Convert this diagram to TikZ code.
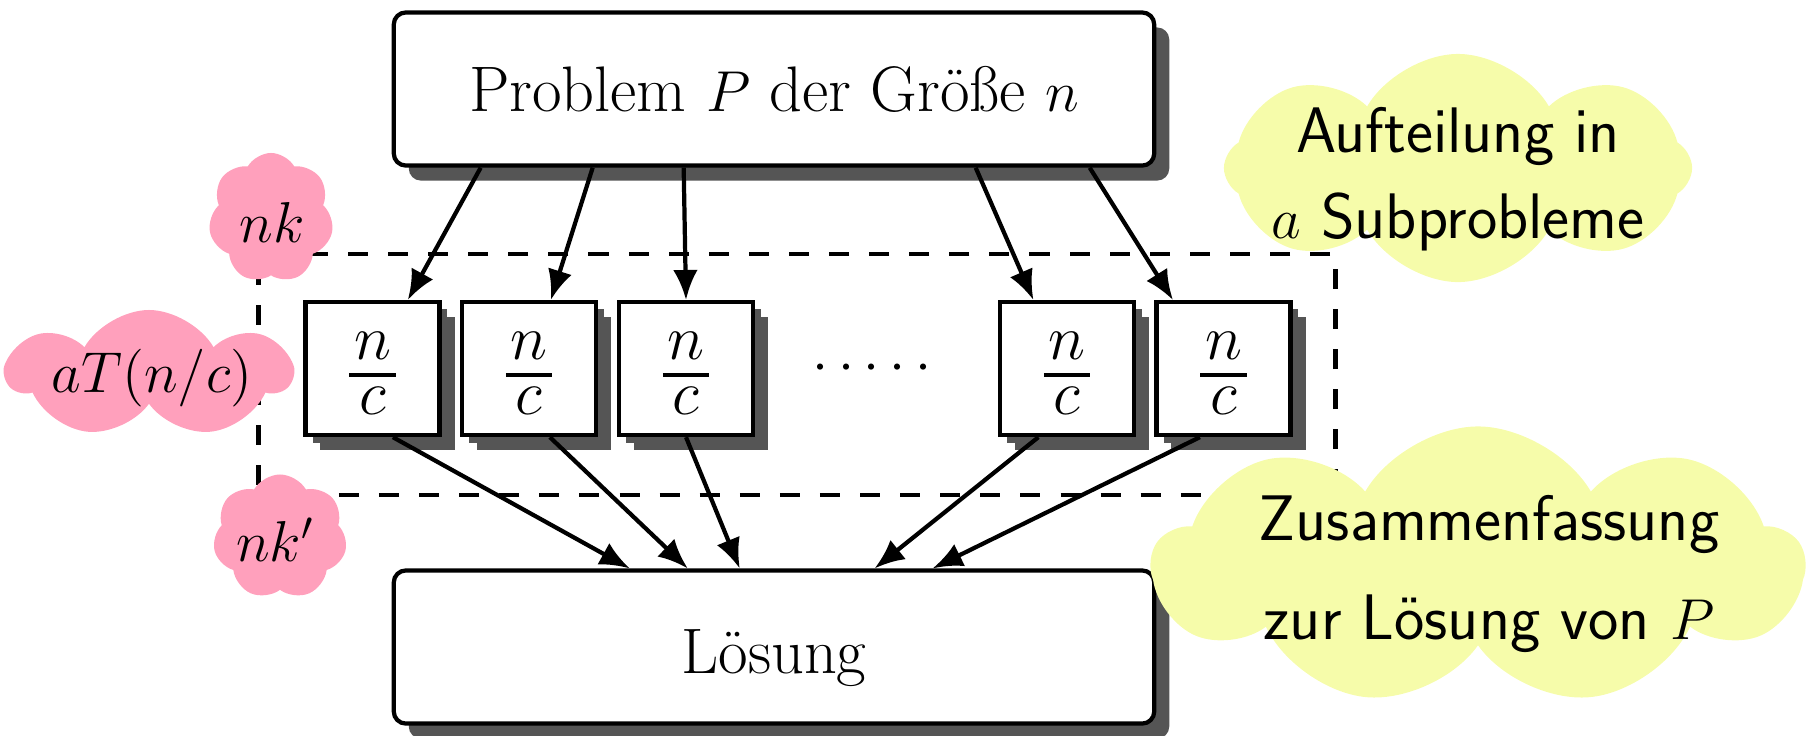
\RequirePackage{fix-cm}
\documentclass[tikz,border=0pt]{standalone}
\usetikzlibrary{shapes.symbols,shadows,arrows.meta,calc}
\definecolor{shadowgray}{HTML}{555555}
\definecolor{cloudpink}{HTML}{FFA0BC}
\definecolor{cloudyellow}{HTML}{F6FCAA}
\DeclareMathSizes{18.3}{16.4}{11.5}{8.2}
\DeclareMathSizes{19}{18}{12.6}{9}
\newcommand{\txtsize}{\fontsize{18.3}{24.5}\selectfont}
\newcommand{\fracsize}{\fontsize{19}{22}\selectfont}
% n over c with a heavy fraction bar
\newcommand{\subfrac}{\vbox{\kern2.8pt
  \hbox to 13.1pt{\hfil$n$\hfil}\kern3.6pt
  \hrule height 1.4pt width 13.1pt\kern2.7pt
  \hbox to 13.1pt{\hfil$c$\hfil}}}
\begin{document}
\begin{tikzpicture}[x=0.01cm,y=-0.01cm,
  bigbox/.style={draw, line width=1.2pt, fill=white, rounded corners=0.12cm,
    minimum width=7.6cm, minimum height=1.53cm, inner sep=0pt, font=\txtsize,
    drop shadow={shadow xshift=0.15cm, shadow yshift=-0.15cm, fill=shadowgray, opacity=1}},
  subbox/.style={draw, line width=1.2pt, fill=white, minimum width=1.34cm,
    minimum height=1.33cm, inner sep=0pt, font=\fracsize,
    drop shadow={shadow xshift=0.15cm, shadow yshift=-0.15cm, fill=shadowgray, opacity=1},
    drop shadow={shadow xshift=0.075cm, shadow yshift=-0.075cm, fill=shadowgray, opacity=1}},
  conn/.style={line width=1.2pt, -{Latex[length=8.5pt,width=7pt]}},
  groupframe/.style={draw, line width=1.3pt, dash pattern=on 5.7pt off 5.7pt,
    minimum width=10.76cm, minimum height=2.41cm, inner sep=0pt},
  cloudbase/.style={cloud, cloud ignores aspect, cloud puff arc=120, inner sep=0pt, draw=none},
  pinkcloud/.style={cloudbase, fill=cloudpink, cloud puffs=7},
  yellowcloud/.style={cloudbase, fill=cloudyellow, cloud puffs=8},
  cloudtext/.style={font=\txtsize, align=center, inner sep=0pt}
]
\useasboundingbox (0,0) rectangle (1807,735);

% dashed frame around the subproblems
\node[groupframe] (frame) at (797,374.5) {};

% problem and solution boxes
\node[bigbox] (problem) at (774,89) {Problem $P$ der Größe $n$};
\node[bigbox, text height=18.6pt, text depth=3.6pt] (solution) at (774,647) {Lösung};

% subproblems
\node[subbox] (s1) at (372.5,368.5) {\subfrac};
\node[subbox] (s2) at (529,368.5) {\subfrac};
\node[subbox] (s3) at (686,368.5) {\subfrac};
\node[subbox] (s4) at (1067,368.5) {\subfrac};
\node[subbox] (s5) at (1223.5,368.5) {\subfrac};
\node[font=\txtsize, inner sep=0pt] (dots) at (872,369) {$\cdotp\cdotp\cdotp\cdotp\cdotp$};

% splitting
\draw[conn] ($(problem.south west)+(89,0)$) -- ($(s1.north west)+(104.5,0)$);
\draw[conn] ($(problem.south west)+(201,0)$) -- ($(s2.north west)+(91,0)$);
\draw[conn] ($(problem.south west)+(292,0)$) -- (s3.north);
\draw[conn] ($(problem.south west)+(584,0)$) -- ($(s4.north west)+(35.5,0)$);
\draw[conn] ($(problem.south west)+(698,0)$) -- ($(s5.north west)+(18.5,0)$);

% merging
\draw[conn] ($(s1.south west)+(89.5,0)$) -- ($(solution.north west)+(238,0)$);
\draw[conn] ($(s2.south west)+(90,0)$) -- ($(solution.north west)+(296,0)$);
\draw[conn] (s3.south) -- ($(solution.north west)+(348,0)$);
\draw[conn] ($(s4.south west)+(40.5,0)$) -- ($(solution.north west)+(483,0)$);
\draw[conn] ($(s5.south west)+(45.5,0)$) -- ($(solution.north west)+(541,0)$);

% cost annotations
\node[pinkcloud, minimum width=1.25cm, minimum height=1.30cm] (cnk) at (271,218) {};
\node[cloudtext] at (272,222) {$nk$};
\node[pinkcloud, minimum width=2.83cm, minimum height=1.28cm] (cat) at (149,374) {};
\node[cloudtext] at (152,378) {$aT(n/c)$};
\node[pinkcloud, minimum width=1.34cm, minimum height=1.25cm] (cnkp) at (280,537) {};
\node[cloudtext] at (275,540) {$nk'$};

% step descriptions
\node[yellowcloud, minimum width=4.68cm, minimum height=2.28cm] (csplit) at (1458,168) {};
\node[cloudtext, font=\txtsize\sffamily] at (1458,179) {Aufteilung in\\$a$ Subprobleme};
\node[yellowcloud, cloud puffs=9, minimum width=6.51cm, minimum height=2.79cm] (cmerge) at (1478,566) {};
\node[cloudtext, font=\txtsize\sffamily] at (1489,574) {Zusammenfassung\\[3.6pt]zur Lösung von $P$};
\end{tikzpicture}
\end{document}
